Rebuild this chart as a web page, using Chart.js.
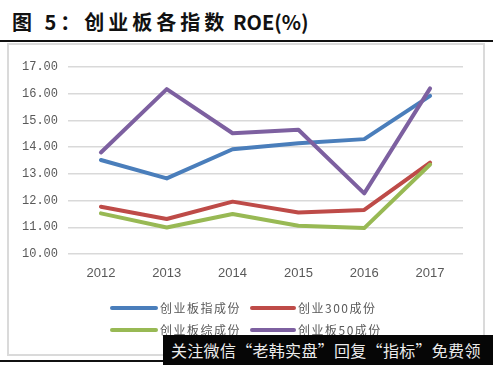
<!DOCTYPE html>
<html>
<head>
<meta charset="utf-8">
<script src="https://cdn.jsdelivr.net/npm/chart.js@4.4.1/dist/chart.umd.min.js"></script>
<style>
  html, body { margin:0; padding:0; background:#fff; }
  body { width:493px; height:365px; position:relative; overflow:hidden; }
  #title { position:absolute; left:12px; top:9px; font-family:"Noto Sans CJK SC", sans-serif; font-weight:700; font-size:20px; line-height:26px; color:#111; white-space:nowrap; }
  #title .cn { letter-spacing:4px; }
  #title .en { letter-spacing:0px; }
  #topline { position:absolute; left:0; top:40px; width:493px; height:2px; background:#111; }
  #frame { position:absolute; left:7px; top:43px; width:478px; height:313px; box-sizing:border-box; border:2px solid #dadada; }
  #botline { position:absolute; left:0; top:360px; width:493px; height:2px; background:#111; }
  canvas { position:absolute; left:0; top:0; }
  #wm { position:absolute; left:163px; top:335px; width:330px; height:30px; background:#060606; color:#ececec; font-family:"Noto Sans CJK SC", sans-serif; font-size:16px; line-height:30px; padding-left:8px; box-sizing:border-box; white-space:nowrap; letter-spacing:0.3px; }
</style>
</head>
<body>
<div id="title"><span class="cn">图 5：创业板各指数</span><span class="en"> ROE(%)</span></div>
<div id="topline"></div>
<div id="frame"></div>
<div id="botline"></div>
<canvas id="c" width="493" height="365"></canvas>
<div id="wm">关注微信“老韩实盘”回复“指标”免费领</div>
<script>
const years = ['2012', '2013', '2014', '2015', '2016', '2017'];
const cybIndex = [13.52, 12.83, 13.92, 14.15, 14.30, 15.92];      // 创业板指成份
const cyb300 = [11.77, 11.31, 11.96, 11.55, 11.65, 13.42];        // 创业300成份
const cybComposite = [11.52, 10.99, 11.50, 11.06, 10.97, 13.35];  // 创业板综成份
const cyb50 = [13.80, 16.17, 14.52, 14.65, 12.27, 16.20];         // 创业板50成份
const seriesNames = ['创业板指成份', '创业300成份', '创业板综成份', '创业板50成份'];
const seriesColors = ['#4a7ebb', '#be4b48', '#98b954', '#7d60a0'];
const yTicks = [10, 11, 12, 13, 14, 15, 16, 17];

const legendPlugin = {
  id: 'customLegend',
  afterDraw(chart) {
    const ctx = chart.ctx;
    const cols = [{ sx: 112, ex: 156, tx: 160 }, { sx: 252, ex: 294, tx: 298 }];
    const rows = [308, 330];
    ctx.save();
    chart.data.datasets.forEach((ds, i) => {
      const c = cols[i % 2], y = rows[Math.floor(i / 2)];
      ctx.strokeStyle = ds.borderColor;
      ctx.lineWidth = 4;
      ctx.lineCap = 'round';
      ctx.beginPath();
      ctx.moveTo(c.sx, y);
      ctx.lineTo(c.ex, y);
      ctx.stroke();
      ctx.fillStyle = '#595959';
      ctx.font = '12px "Noto Sans CJK SC", sans-serif';
      ctx.letterSpacing = '1.5px';
      ctx.textBaseline = 'middle';
      ctx.textAlign = 'left';
      ctx.fillText(ds.label, c.tx, y);
    });
    ctx.restore();
  }
};

const seriesData = [cybIndex, cyb300, cybComposite, cyb50];
new Chart(document.getElementById('c'), {
  type: 'line',
  data: {
    labels: years,
    datasets: seriesData.map((d, i) => ({
      label: seriesNames[i],
      data: d,
      borderColor: seriesColors[i],
      backgroundColor: seriesColors[i],
      borderWidth: 4,
      pointRadius: 0,
      tension: 0,
      borderJoinStyle: 'round',
      borderCapStyle: 'round',
      order: 4 - i
    }))
  },
  options: {
    responsive: false,
    devicePixelRatio: 1,
    animation: false,
    layout: { padding: { left: 0, right: 30, top: 67, bottom: 81 } },
    plugins: { legend: { display: false }, tooltip: { enabled: false } },
    scales: {
      x: {
        offset: true,
        grid: { display: false, drawTicks: false },
        border: { display: false },
        ticks: { color: '#595959', font: { family: '"Liberation Sans", Arial, sans-serif', size: 13 }, padding: 12, maxRotation: 0 },
        afterFit(scale) { scale.height = 30; }
      },
      y: {
        min: yTicks[0],
        max: yTicks[yTicks.length - 1],
        afterBuildTicks(scale) { scale.ticks = yTicks.map(v => ({ value: v })); },
        grid: { color: '#d9d9d9', lineWidth: 1.5, drawTicks: false },
        border: { display: false },
        ticks: { color: '#595959', font: { family: '"Liberation Mono", monospace', size: 12 }, padding: 10, callback: v => Number(v).toFixed(2) },
        afterFit(scale) { scale.width = 68; }
      }
    }
  },
  plugins: [legendPlugin]
});
</script>
</body>
</html>
